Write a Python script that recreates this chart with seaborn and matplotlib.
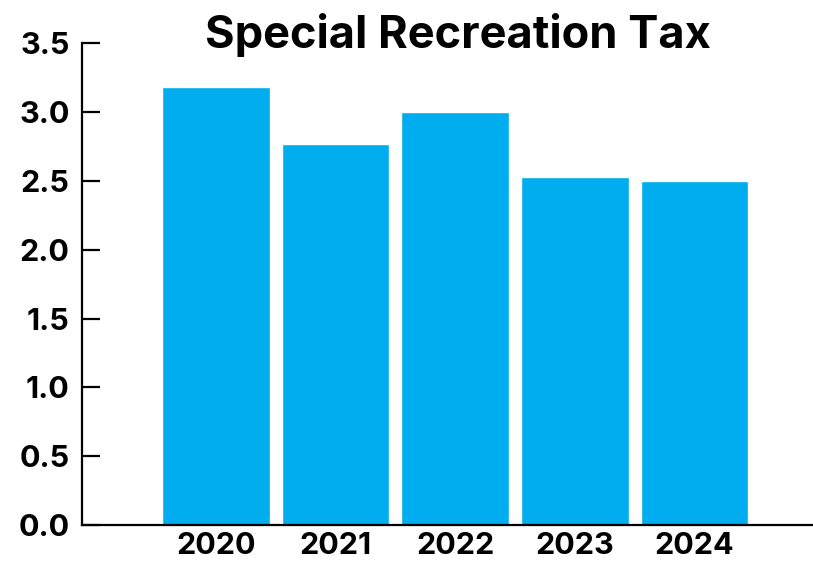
import matplotlib
matplotlib.use("Agg")
import matplotlib.pyplot as plt
import seaborn as sns
import pandas as pd

years = ["2020", "2021", "2022", "2023", "2024"]
values = [3.18, 2.77, 3.0, 2.53, 2.50]
yticks = [0.0, 0.5, 1.0, 1.5, 2.0, 2.5, 3.0, 3.5]
title = "Special Recreation Tax"

sns.set_theme(style="white")
plt.rcParams['font.family'] = ['Inter', 'DejaVu Sans']

df = pd.DataFrame({"year": years, "value": values})

fig = plt.figure(figsize=(8.13, 5.64), dpi=100)
ax = fig.add_axes([82/813, 1-525/564, 1-82/813, (525-43.3)/564])
sns.barplot(data=df, x="year", y="value", color="#00AEEF", saturation=1,
            width=0.9, ax=ax)
ax.set_xlim(-1.12, 4.99)
ax.set_ylim(0, 3.5)
ax.set_yticks(yticks)
ax.set_yticklabels([f"{t:.1f}" for t in yticks])
ax.set_xlabel("")
ax.set_ylabel("")
for s in ["top", "right"]:
    ax.spines[s].set_visible(False)
for s in ["left", "bottom"]:
    ax.spines[s].set_color("black")
    ax.spines[s].set_linewidth(1.6)
ax.tick_params(axis="y", direction="in", length=13, width=1.6, color="black",
               labelsize=22, pad=9, left=True)
ax.tick_params(axis="x", length=0, labelsize=22, pad=5)
for lab in ax.get_yticklabels() + ax.get_xticklabels():
    lab.set_fontweight("bold")
    lab.set_color("black")
fig.text(458/813, 1-48/564, title, ha="center", va="baseline",
         fontsize=32.5, fontweight="bold", color="black")
fig.savefig("out.png", dpi=100)
